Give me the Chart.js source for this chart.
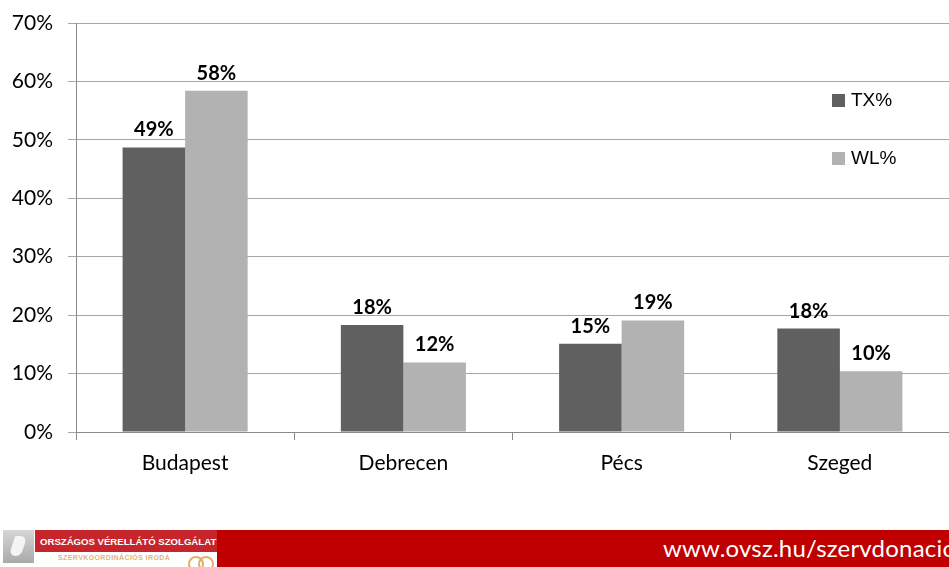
<!DOCTYPE html>
<html>
<head>
<meta charset="utf-8">
<script src="https://cdn.jsdelivr.net/npm/chart.js@4/dist/chart.umd.min.js"></script>
<style>
  body { margin: 0; width: 949px; height: 567px; overflow: hidden; background: #fff; font-family: Lato, sans-serif; }
  #wrap { position: absolute; left: 0; top: 0; width: 949px; height: 500px; }
  #footer { position: absolute; left: 0; top: 530px; width: 949px; height: 37px; overflow: hidden; }
  #footer .bar { position: absolute; left: 217px; top: 0; right: 0; height: 37px; background: #c00000; }
  #footer .url { position: absolute; left: 663px; top: 3px; color: #fff; font-size: 24px; white-space: nowrap; letter-spacing: 0.2px; }
  #footer .icon { position: absolute; left: 3px; top: 0; width: 31px; height: 33px; background: linear-gradient(#d6d6d6, #a9a9a9); }
  #footer .icon i { position: absolute; left: 9px; top: 6px; width: 12px; height: 20px; border-radius: 2px 10px 8px 10px; background: #f4f4f4; transform: skewX(-18deg); }
  #footer .strip { position: absolute; left: 35px; top: 0; width: 182px; height: 22px; background: #c6252b; color: #fff; font: bold 9.6px "Liberation Sans", sans-serif; line-height: 23px; padding-left: 5px; box-sizing: border-box; white-space: nowrap; }
  #footer .sub { position: absolute; left: 58px; top: 24px; color: #dfb57a; font: bold 7px "Liberation Sans", sans-serif; white-space: nowrap; letter-spacing: 0.4px; }
  #footer .ring { position: absolute; top: 26px; width: 12px; height: 12px; border: 2px solid #e0b070; border-radius: 50%; }
</style>
</head>
<body>
<div id="wrap"><canvas id="transplantChart" width="949" height="500"></canvas></div>
<div id="footer">
  <div class="bar"></div>
  <div class="url">www.ovsz.hu/szervdonacio</div>
  <div class="icon"><i></i></div>
  <div class="strip">ORSZÁGOS VÉRELLÁTÓ SZOLGÁLAT</div>
  <div class="sub">SZERVKOORDINÁCIÓS IRODA</div>
  <div class="ring" style="left:188px"></div>
  <div class="ring" style="left:198px"></div>
</div>
<script>
// categories and series
const cities = ["Budapest", "Debrecen", "Pécs", "Szeged"];
const txValues = [48.7, 18.3, 15.1, 17.7];
const wlValues = [58.4, 11.9, 19.1, 10.4];
const yTicks = [0, 10, 20, 30, 40, 50, 60, 70];

// bold value labels above each bar
const valueLabels = {
    id: "valueLabels",
    afterDatasetsDraw(chart) {
        const ctx = chart.ctx;
        ctx.save();
        ctx.font = "bold 20px Lato";
        ctx.fillStyle = "#000";
        ctx.textAlign = "center";
        ctx.textBaseline = "alphabetic";
        chart.data.datasets.forEach((ds, i) => {
            chart.getDatasetMeta(i).data.forEach((bar, j) => {
                ctx.fillText(Math.round(ds.data[j]) + "%", bar.x, bar.y - 11);
            });
        });
        ctx.restore();
    }
};

// legend drawn inside the plot on the right
const sideLegend = {
    id: "sideLegend",
    afterDraw(chart) {
        const ctx = chart.ctx;
        ctx.save();
        ctx.font = "19px 'Liberation Sans'";
        ctx.textBaseline = "middle";
        chart.data.datasets.forEach((ds, i) => {
            const y = 100 + i * 58;
            ctx.fillStyle = ds.backgroundColor;
            ctx.fillRect(832, y - 6, 13, 13);
            ctx.fillStyle = "#000";
            ctx.fillText(ds.label, 851, y + 1);
        });
        ctx.restore();
    }
};

new Chart("transplantChart", {
    type: "bar",
    data: {
        labels: cities,
        datasets: [{
            label: "TX%",
            data: txValues,
            backgroundColor: "#606060"
        }, {
            label: "WL%",
            data: wlValues,
            backgroundColor: "#b2b2b2"
        }]
    },
    options: {
        responsive: false,
        animation: false,
        categoryPercentage: 0.573,
        barPercentage: 1,
        layout: { padding: { top: 23, right: 0, left: 0, bottom: 0 } },
        plugins: { legend: { display: false }, tooltip: { enabled: false } },
        scales: {
            x: {
                afterFit(scale) { scale.height = 68; },
                grid: { drawOnChartArea: false, offset: true, tickLength: 8, color: "#8a8a8a" },
                border: { color: "#8a8a8a" },
                ticks: { color: "#000", font: { family: "Lato", size: 21 }, padding: 11 }
            },
            y: {
                min: 0,
                max: 70,
                afterFit(scale) {
                    scale.width = 76;
                    scale.paddingTop = 0;
                    scale.paddingBottom = 0;
                },
                afterBuildTicks(scale) { scale.ticks = yTicks.map(v => ({ value: v })); },
                grid: { color: "#a6a6a6", tickLength: 8 },
                border: { color: "#8a8a8a" },
                ticks: {
                    color: "#000",
                    font: { family: "Lato", size: 21 },
                    padding: 15,
                    callback: v => v + "%"
                }
            }
        }
    },
    plugins: [valueLabels, sideLegend]
});
</script>
</body>
</html>
